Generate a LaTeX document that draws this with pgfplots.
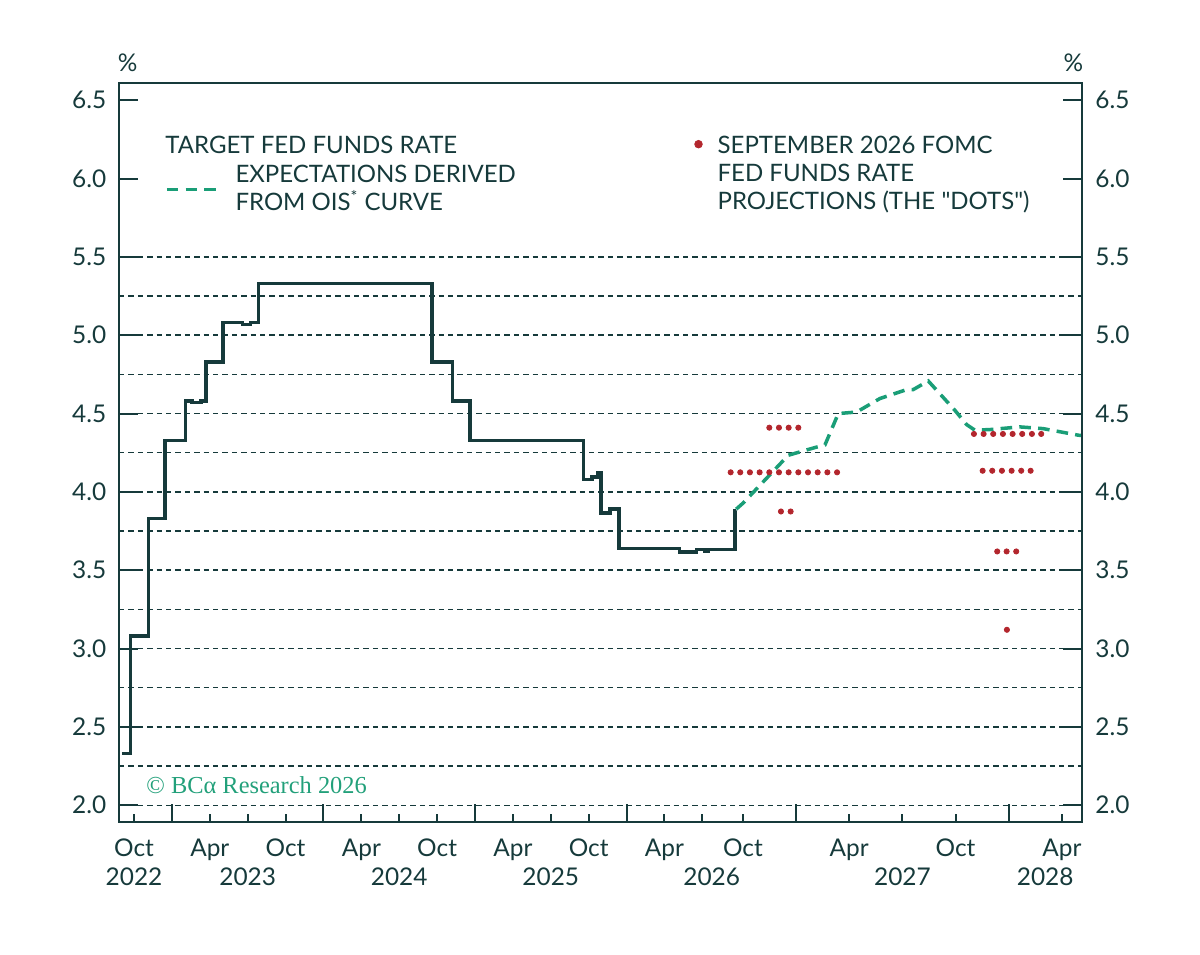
\documentclass[border=0pt]{standalone}
\usepackage{fontspec}
\setmainfont[Ligatures=TeXOff]{Lato}
\newfontfamily\logofont{Liberation Serif}
\usepackage{pgfplots}
\pgfplotsset{compat=1.18}
\definecolor{dark}{HTML}{163A3B}
\definecolor{ois}{HTML}{1A9E77}
\definecolor{dotred}{HTML}{B3262D}
\definecolor{bca}{HTML}{22A07A}
\pgfplotsset{
  common/.style={
    scale only axis, width=481.35pt, height=369.5pt,
    at={(59.5pt,66.15pt)}, anchor=south west,
    ymin=1.895, ymax=6.612,
    axis line style={draw=dark, line width=1pt},
    tick label style={font=\fontsize{12.2}{14}\selectfont, text=dark},
    tick align=inside,
  },
}
\begin{document}
\begin{tikzpicture}
\path (0,0) rectangle (600pt,477pt);
% ---------- main axis: data, x ticks, grid
\begin{axis}[common,
  x coord trafo/.code={\pgfmathparse{#1<47.46 ? #1 : 47.46+(#1-47.46)*1.403}},
  xmin=-1.19, xmax=67.12,
  xtick={0,3,6,9,12,15,18,21,24,27,30,33,36,39,42,45,48,51,54,57,60,63,66},
  xticklabels={Oct,,Apr,,Oct,,Apr,,Oct,,Apr,,Oct,,Apr,,Oct,,Apr,,Oct,,Apr},
  minor xtick={3,15,27,39,51,63},
  xtick pos=lower,
  major tick length=3.8pt, minor tick length=8.8pt,
  tick style={draw=dark, line width=1pt},
  xticklabel style={anchor=base, yshift=-17.3pt},
  ytick={2,2.25,2.5,2.75,3,3.25,3.5,3.75,4,4.25,4.5,4.75,5,5.25,5.5},
  yticklabels={},
  ytick style={draw=none},
  ymajorgrids,
  major grid style={draw=dark, line width=0.75pt, dash pattern=on 2.7pt off 2pt},
  legend style={draw=none, fill=none, inner sep=0pt, outer sep=0pt,
    at={(0.0478,0.894)}, anchor=north west,
    font=\fontsize{12}{14.15}\selectfont, text=dark,
    cells={anchor=west, align=left, inner sep=0pt},
    /tikz/every odd column/.style={column sep=5.65pt}},
  legend image code/.code={\draw[#1] (0pt,0pt) -- (25.85pt,0pt);},
]
\addplot[dark, line width=1.7pt, const plot, line join=miter, forget plot] coordinates {
(-0.97,2.33) (-0.28,3.08) (1.13,3.83) (2.45,4.33) (4.09,4.58) (4.6,4.57) (5.3,4.58)
(5.70,4.83) (7.05,5.08) (8.6,5.07) (9.2,5.08) (9.87,5.33) (23.6,4.83) (25.23,4.58)
(26.6,4.33) (35.57,4.08) (36.26,4.095) (36.74,4.12) (36.98,3.866) (37.69,3.89)
(38.40,3.638) (43.2,3.617) (44.55,3.632) (45.2,3.62) (45.45,3.632) (47.55,3.883) (47.58,3.883)
};
\addplot[ois, line width=1.75pt, dash pattern=on 5.8pt off 3.6pt] coordinates {
(47.62,3.89) (48.02,3.93) (50.56,4.234) (52.06,4.283) (52.63,4.30) (53.38,4.50)
(54.42,4.51) (55.73,4.596) (57.24,4.653) (57.61,4.653) (58.46,4.708) (59.97,4.52)
(60.62,4.43) (61.09,4.394) (61.94,4.398) (63.63,4.415) (64.94,4.404) (66.93,4.362) (67.12,4.36)
};
\addlegendentry{EXPECTATIONS DERIVED\\FROM OIS\textsuperscript{*} CURVE}
\addplot[only marks, mark=*, mark size=1.3pt, dotred, mark options={draw=none, fill=dotred}, forget plot] coordinates {
(49.487,4.41) (50.033,4.41) (50.580,4.41) (51.126,4.41)
(47.245,4.125) (47.848,4.125) (48.394,4.125) (48.941,4.125) (49.487,4.125) (50.033,4.125)
(50.580,4.125) (51.126,4.125) (51.672,4.125) (52.219,4.125) (52.765,4.125) (53.312,4.125)
(50.145,3.875) (50.692,3.875)
(61.037,4.37) (61.584,4.37) (62.126,4.37) (62.673,4.37) (63.221,4.37) (63.762,4.37) (64.310,4.37) (64.835,4.37)
(61.528,4.135) (62.070,4.135) (62.617,4.135) (63.164,4.135) (63.706,4.135) (64.237,4.135)
(62.351,3.62) (62.882,3.62) (63.424,3.62)
(62.898,3.12)
};
\end{axis}
% ---------- second axis: year labels, y ticks both sides, left labels, dots legend
\begin{axis}[common,
  x coord trafo/.code={\pgfmathparse{#1<47.46 ? #1 : 47.46+(#1-47.46)*1.403}},
  xmin=-1.19, xmax=67.12,
  xtick={0,9,21,33,45.74,57,65.06},
  xticklabels={2022,2023,2024,2025,2026,2027,2028},
  xtick style={draw=none},
  xticklabel style={anchor=base, yshift=-31.65pt},
  ytick={2,2.5,3,3.5,4,4.5,5,5.5,6,6.5},
  yticklabels={2.0,2.5,3.0,3.5,4.0,4.5,5.0,5.5,6.0,6.5},
  ytick pos=both, yticklabel pos=left,
  major tick length=9.5pt,
  ytick style={draw=dark, line width=1pt},
  yticklabel style={inner sep=0pt, xshift=-6.15pt},
  clip=false,
  legend style={draw=none, fill=none, inner sep=0pt, outer sep=0pt,
    at={(0.598,0.9337)}, anchor=north west,
    font=\fontsize{12}{14.15}\selectfont, text=dark,
    cells={anchor=west, align=left, inner sep=0pt},
    /tikz/every odd column/.style={column sep=5.65pt}},
  legend image code/.code={\path[draw=none, fill=none] (0pt,-16.8pt) -- (3.6pt,-16.8pt); \draw[#1] plot coordinates {(1.8pt,15pt)};},
]
\addlegendimage{only marks, mark=*, mark size=1.9pt, dotred, mark options={draw=none, fill=dotred}}
\addlegendentry{SEPTEMBER 2026 FOMC\\FED FUNDS RATE\\PROJECTIONS (THE "DOTS")}
\node[font=\fontsize{12.2}{14}\selectfont, text=dark] at (rel axis cs:0,1) [xshift=4.35pt, yshift=10pt] {\%};
\node[font=\fontsize{12.2}{14}\selectfont, text=dark] at (rel axis cs:1,1) [xshift=-4.2pt, yshift=10pt] {\%};
\end{axis}
% ---------- third axis: right-hand labels
\begin{axis}[common, xmin=0, xmax=1, xtick=\empty,
  ytick={2,2.5,3,3.5,4,4.5,5,5.5,6,6.5},
  yticklabels={2.0,2.5,3.0,3.5,4.0,4.5,5.0,5.5,6.0,6.5},
  yticklabel pos=right, ytick style={draw=none},
  axis line style={draw=none},
  yticklabel style={inner sep=0pt, xshift=6.65pt},
]
\end{axis}
\node[anchor=base west, inner sep=0pt, font=\fontsize{12}{14.15}\selectfont, text=dark] at (82.5pt,400.35pt) {TARGET FED FUNDS RATE};
\node[anchor=base west, inner sep=0pt, font=\logofont\fontsize{12.2}{14}\selectfont, text=bca] at (73pt,80.35pt) {© BCα Research 2026};
\end{tikzpicture}
\end{document}
